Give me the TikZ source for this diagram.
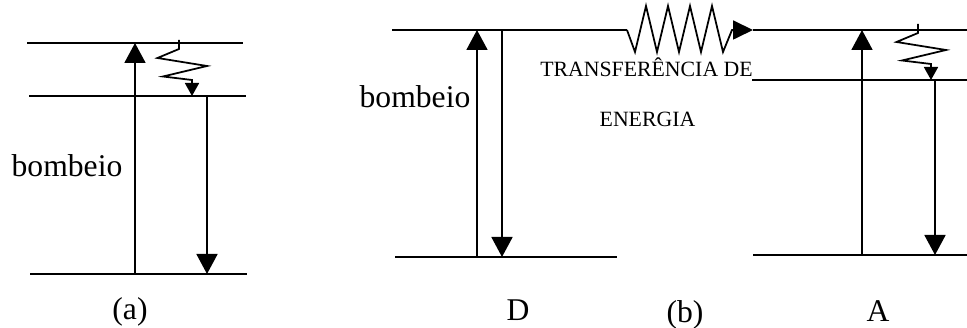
\documentclass[tikz,border=0pt]{standalone}
\usepackage{fontspec}
\setmainfont{Liberation Serif}
\usetikzlibrary{arrows.meta}
\tikzset{lvl/.style={line width=1pt},
  pump/.style={line width=1pt, -{Triangle[length=0.4cm, width=0.42cm]}},
  decay/.style={line width=1pt, -{Triangle[length=0.26cm, width=0.28cm]}},
  transfer/.style={line width=1pt, -{Triangle[length=0.4cm, width=0.38cm]}},
  lbl/.style={anchor=base, inner sep=0pt, font=\fontsize{18}{20}\selectfont}}
\newcommand{\fdecay}[1]{\draw[decay] (#1) -- ++(0,-0.18) -- ++(-0.43,-0.18) -- ++(0.99,-0.16) -- ++(-0.88,-0.21) -- ++(0.58,-0.07) -- ++(0,-0.32);}

\begin{document}
\begin{tikzpicture}
\useasboundingbox (0,0) rectangle (19.34,6.56);
% (a) three levels
\coordinate (a3l) at (0.54,5.70); \coordinate (a3r) at (4.86,5.70);
\coordinate (a2l) at (0.58,4.64); \coordinate (a2r) at (4.92,4.64);
\coordinate (a1l) at (0.60,1.08); \coordinate (a1r) at (4.94,1.08);
\draw[lvl] (a3l) -- (a3r); \draw[lvl] (a2l) -- (a2r); \draw[lvl] (a1l) -- (a1r);
\coordinate (aup) at (2.70,0); \coordinate (adn) at (4.14,0);
\draw[pump] (aup |- a1l) -- (aup |- a3l);
\draw[pump] (adn |- a2l) -- (adn |- a1l);
\coordinate (az) at (3.58,5.76); \fdecay{az}
\node[lbl] (pumpa) at (1.34,3.02) {bombeio};
\node[lbl] (capa) at (2.60,0.16) {(a)};
% (b) donor
\coordinate (d2l) at (7.84,5.96); \coordinate (d2r) at (12.54,5.96);
\coordinate (d1l) at (7.90,1.42); \coordinate (d1r) at (12.34,1.42);
\draw[lvl] (d2l) -- (d2r); \draw[lvl] (d1l) -- (d1r);
\coordinate (dup) at (9.54,0); \coordinate (ddn) at (10.04,0);
\draw[pump] (dup |- d1l) -- (dup |- d2l);
\draw[pump] (ddn |- d2l) -- (ddn |- d1l);
\node[lbl] (pumpb) at (8.30,4.40) {bombeio};
\node[lbl] (donor) at (10.36,0.14) {D};
% (b) acceptor
\coordinate (A3l) at (15.06,5.96); \coordinate (A3r) at (19.34,5.96);
\coordinate (A2l) at (15.04,4.96); \coordinate (A2r) at (19.34,4.96);
\coordinate (A1l) at (15.06,1.46); \coordinate (A1r) at (19.34,1.46);
\draw[lvl] (A3l) -- (A3r); \draw[lvl] (A2l) -- (A2r); \draw[lvl] (A1l) -- (A1r);
\coordinate (Aup) at (17.24,0); \coordinate (Adn) at (18.70,0);
\draw[pump] (Aup |- A1l) -- (Aup |- A3l);
\draw[pump] (Adn |- A2l) -- (Adn |- A1l);
\coordinate (Az) at (18.36,6.08); \fdecay{Az}
\node[lbl] (acc) at (17.56,0.12) {A};
% energy transfer D -> A
\draw[transfer] (d2r) -- ++(0.16,-0.44) \foreach \k in {1,...,4} { -- ++(0.22,0.92) -- ++(0.22,-0.92) } -- ++(0.18,0.44) -- (A3l);
\node[lbl, font=\fontsize{12.4}{14}\selectfont] (tr1) at (12.93,5.02) {TRANSFERÊNCIA DE};
\node[lbl, font=\fontsize{12.4}{14}\selectfont] (tr2) at (12.95,4.02) {ENERGIA};
\node[lbl] (capb) at (13.70,0.10) {(b)};
\end{tikzpicture}
\end{document}
